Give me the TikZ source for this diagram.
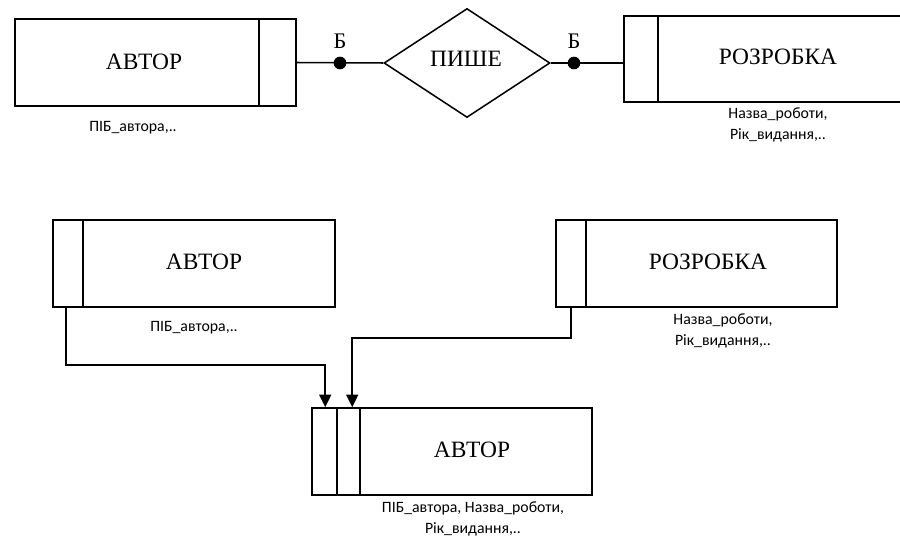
\documentclass[tikz,border=0pt]{standalone}
\usepackage{fontspec}
\setmainfont{Liberation Serif}
\newfontfamily\lblfont{Carlito}
\usetikzlibrary{calc,arrows.meta,positioning,shapes.geometric}

\begin{document}
\begin{tikzpicture}[
  x=0.03cm, y=-0.03cm,
  every path/.style={line width=1.3pt},
  entity/.style={draw, rectangle, inner sep=0pt, line width=1.3pt},
  ttl/.style={font=\fontsize{20}{24}\selectfont, inner sep=0pt},
  attr/.style={font=\lblfont\fontsize{13.5}{18}\selectfont, align=center, inner sep=0pt},
  dot/.style={circle, fill=black, inner sep=0pt, minimum size=0.38cm},
  card/.style={font=\fontsize{19}{22}\selectfont, inner sep=0pt},
  link/.style={draw, line width=1.3pt, -{Triangle[length=0.38cm,width=0.36cm]}}
]
\useasboundingbox (0,0) rectangle (900,537);

% --- top: ER diagram
\node[entity, minimum width=8.43cm, minimum height=2.61cm] (avt) at (155.5,62.5) {};
\draw ($(avt.north east)+(-38,0)$) -- ($(avt.south east)+(-38,0)$);
\node[ttl] (avtT) at (144,62) {АВТОР};
\node[attr] (avtA) at (133,128) {ПІБ\_автора,..};

\node[draw, diamond, line width=1.3pt, inner sep=0pt, minimum width=4.98cm, minimum height=3.27cm] (pys) at (467,63) {};
\node[ttl] (pysT) at (466,59) {ПИШЕ};

\node[entity, minimum width=8.43cm, minimum height=2.58cm] (roz) at (764.5,59) {};
\draw ($(roz.north west)+(35,0)$) -- ($(roz.south west)+(35,0)$);
\node[ttl] (rozT) at (778,57) {РОЗРОБКА};
\node[attr] (rozA) at (778,125) {Назва\_роботи,\\Рік\_видання,..};

\draw (avt.east) -- (pys.west);
\draw (pys.east) -- (pys.east -| roz.west);
\node[dot] (d1) at (340,63) {};
\node[dot] (d2) at (574,63) {};
\node[card, above=0.2cm of d1] (c1) {Б};
\node[card, above=0.2cm of d2] (c2) {Б};

% --- bottom: relations
\node[entity, minimum width=8.46cm, minimum height=2.61cm] (avt2) at (194,263.5) {};
\draw ($(avt2.north west)+(31,0)$) -- ($(avt2.south west)+(31,0)$);
\node[ttl] (avt2T) at (204,262) {АВТОР};
\node[attr] (avt2A) at (194,328) {ПІБ\_автора,..};

\node[entity, minimum width=8.43cm, minimum height=2.61cm] (roz2) at (696.5,263.5) {};
\draw ($(roz2.north west)+(31,0)$) -- ($(roz2.south west)+(31,0)$);
\node[ttl] (roz2T) at (708,262) {РОЗРОБКА};
\node[attr] (roz2A) at (723,331) {Назва\_роботи,\\Рік\_видання,..};

\node[entity, minimum width=8.4cm, minimum height=2.61cm] (avt3) at (452,451.5) {};
\draw ($(avt3.north west)+(26,0)$) -- ($(avt3.south west)+(26,0)$);
\draw ($(avt3.north west)+(49,0)$) -- ($(avt3.south west)+(49,0)$);
\node[ttl] (avt3T) at (472,450) {АВТОР};
\node[attr] (avt3A) at (473,519) {ПІБ\_автора, Назва\_роботи,\\Рік\_видання,..};

\draw[link] ($(avt2.south west)+(14,0)$) -- ++(0,57) -| ($(avt3.north west)+(14,0)$);
\draw[link] ($(roz2.south west)+(16,0)$) -- ++(0,30) -| ($(avt3.north west)+(41,0)$);
\end{tikzpicture}
\end{document}
